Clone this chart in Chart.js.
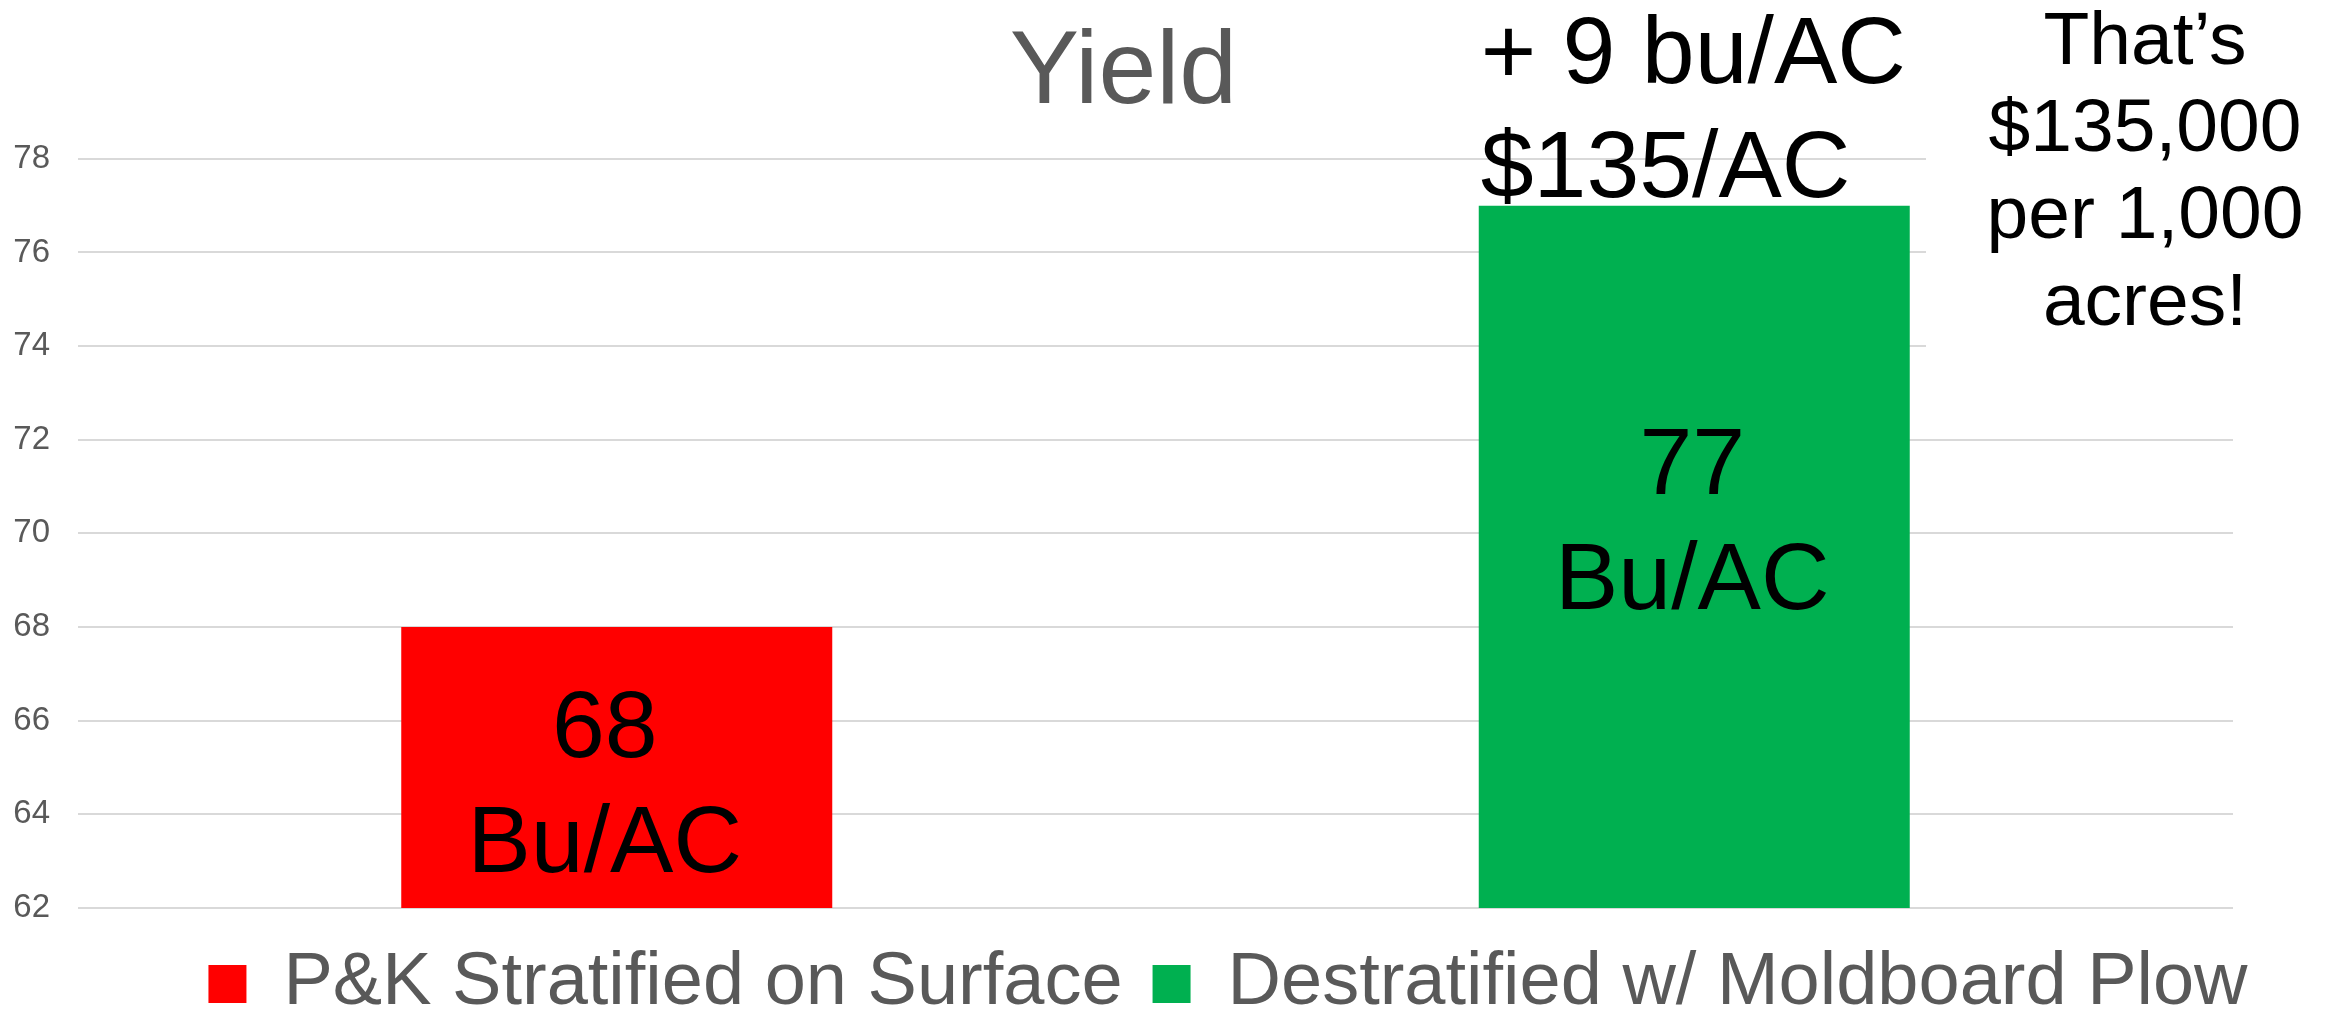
<!DOCTYPE html>
<html>
<head>
<meta charset="utf-8">
<script src="https://cdn.jsdelivr.net/npm/chart.js@4/dist/chart.umd.min.js"></script>
<style>
  html, body { margin: 0; padding: 0; background: #ffffff; }
  #wrap { width: 2333px; height: 1010px; position: relative; }
</style>
</head>
<body>
<div id="wrap"><canvas id="c"></canvas></div>
<script>
// ---- data ----
const categories = ['P&K Stratified on Surface', 'Destratified w/ Moldboard Plow'];
const seriesNames = ['P&K Stratified on Surface', 'Destratified w/ Moldboard Plow'];
const stratifiedValues = [68, null];
const destratifiedValues = [null, 77];
const yTickValues = [62, 64, 66, 68, 70, 72, 74, 76, 78];
const valueUnit = 'Bu/AC';
const chartTitle = 'Yield';
const gainLines = ['+ 9 bu/AC', '$135/AC'];
const noteLines = ['That\u2019s', '$135,000', 'per 1,000', 'acres!'];

const FONT = '"Liberation Sans", Arial, Helvetica, sans-serif';
Chart.defaults.font.family = FONT;

const annotations = {
  id: 'annotations',
  afterLayout(chart) {
    // center the legend row like the original slide
    const lg = chart.legend;
    const w = lg.right - lg.left;
    const c = 1228;
    lg.left = c - w / 2;
    lg.right = c + w / 2;
    lg.top += 9;
    lg.bottom += 9;
  },
  afterDatasetsDraw(chart) {
    const ctx = chart.ctx;
    const area = chart.chartArea;
    ctx.save();
    ctx.fillStyle = '#000000';
    ctx.textBaseline = 'alphabetic';

    // value labels inside bars
    const offsets = [{dx: -12, dy: 130}, {dx: -2, dy: 288}];
    chart.data.datasets.forEach((ds, di) => {
      const meta = chart.getDatasetMeta(di);
      meta.data.forEach((bar, i) => {
        const v = ds.data[i];
        if (v === null || v === undefined) return;
        const lines = [String(v), valueUnit];
        ctx.font = '95px ' + FONT;
        ctx.textAlign = 'center';
        lines.forEach((t, k) => {
          ctx.fillText(t, bar.x + offsets[di].dx, bar.y + offsets[di].dy + k * 115);
        });
      });
    });

    // gain annotation above the taller bar
    const gMeta = chart.getDatasetMeta(1);
    const gBar = gMeta.data[1];
    ctx.font = '95px ' + FONT;
    ctx.textAlign = 'left';
    const gx = gBar.x - gBar.width / 2 + 2;
    gainLines.forEach((t, k) => ctx.fillText(t, gx, gBar.y - 123 + k * 114));

    // note box on the right (white background covers gridlines)
    const boxLeft = area.right - 307;
    ctx.fillStyle = '#ffffff';
    ctx.fillRect(boxLeft, 0, chart.width - boxLeft, 395);
    ctx.fillStyle = '#000000';
    ctx.font = '75px ' + FONT;
    ctx.textAlign = 'center';
    const nx = area.right - 88;
    noteLines.forEach((t, k) => ctx.fillText(t, nx, area.top - 95 + k * 87));
    ctx.restore();
  }
};

new Chart(document.getElementById('c'), {
  type: 'bar',
  data: {
    labels: categories,
    datasets: [
      { label: seriesNames[0], data: stratifiedValues, backgroundColor: '#ff0000' },
      { label: seriesNames[1], data: destratifiedValues, backgroundColor: '#00b050' }
    ]
  },
  options: {
    responsive: true,
    maintainAspectRatio: false,
    animation: false,
    skipNull: true,
    categoryPercentage: 0.5,
    barPercentage: 0.8,
    layout: { padding: { left: 14, right: 100, top: 0, bottom: -12 } },
    plugins: {
      title: {
        display: true,
        text: chartTitle,
        color: '#595959',
        font: { size: 104, weight: 'normal', lineHeight: 1.2 },
        padding: { top: 12, bottom: 22 }
      },
      legend: {
        display: true,
        position: 'bottom',
        labels: {
          color: '#595959',
          font: { size: 74 },
          boxWidth: 38,
          boxHeight: 38,
          padding: 30
        }
      },
      tooltip: { enabled: false }
    },
    scales: {
      x: {
        type: 'category',
        display: false,
        grid: { display: false }
      },
      y: {
        min: 62,
        max: 78,
        afterBuildTicks(scale) {
          scale.ticks = yTickValues.map(v => ({ value: v }));
        },
        afterFit(scale) {
          scale.width = 64;
        },
        ticks: {
          color: '#595959',
          font: { size: 33 },
          padding: 28
        },
        grid: { color: '#d9d9d9', lineWidth: 2, drawTicks: false },
        border: { display: false }
      }
    }
  },
  plugins: [annotations]
});
</script>
</body>
</html>
